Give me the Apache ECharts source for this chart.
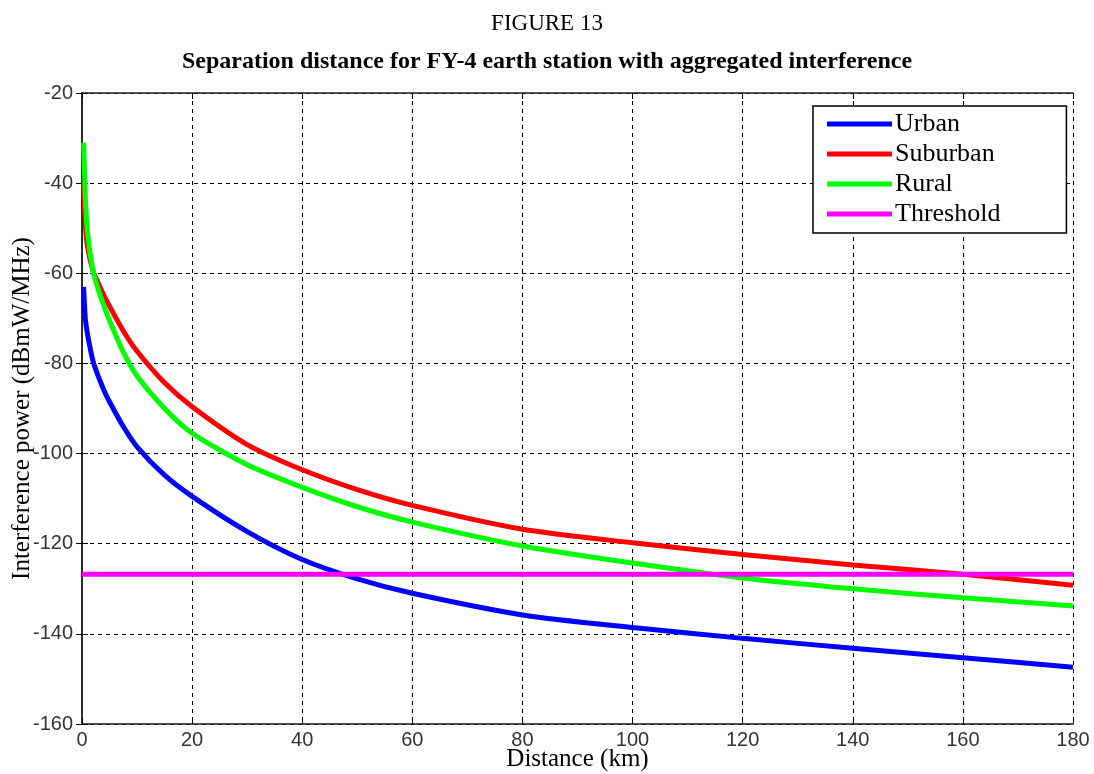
<!DOCTYPE html>
<html>
<head>
<meta charset="utf-8">
<script src="https://cdn.jsdelivr.net/npm/echarts@6/dist/echarts.min.js"></script>
<style>html,body{margin:0;padding:0;background:#fff;}#c{width:1094px;height:774px;}</style>
</head>
<body>
<div id="c"></div>
<script>
const distance = [0.3, 0.6, 1, 2, 3, 4, 5, 7.5, 10, 15, 20, 30, 40, 50, 60, 80, 100, 120, 140, 160, 180];
const urban    = [-63, -70, -73.5, -79.5, -83, -86, -88.5, -94, -98.5, -104.8, -109.5, -117.3, -123.5, -127.8, -131, -135.8, -138.6, -141, -143.2, -145.3, -147.4];
const suburban = [-40, -49, -54, -59.5, -62.3, -65, -67.3, -72.8, -77.3, -84.3, -89.6, -98, -103.6, -108, -111.5, -116.8, -119.8, -122.4, -124.7, -126.8, -129.2];
const rural    = [-31, -43, -51, -59.5, -63.8, -67.3, -70.5, -77.5, -82.8, -90, -95.5, -102.5, -107.5, -111.8, -115.2, -120.5, -124.3, -127.6, -130, -132, -133.8];
const thresholdDist = [0, 180];
const thresholdVal = [-126.8, -126.8];
const seriesNames = ['Urban', 'Suburban', 'Rural', 'Threshold'];

const pairs = (xs, ys) => xs.map((x, i) => [x, ys[i]]);
const colors = ['#0000ff', '#ff0000', '#00ff00', '#ff00ff'];
const datasets = [pairs(distance, urban), pairs(distance, suburban), pairs(distance, rural), pairs(thresholdDist, thresholdVal)];

const serif = 'Liberation Serif, Times New Roman, serif';
const chart = echarts.init(document.getElementById('c'), null, {renderer: 'canvas'});
const tickFont = {fontFamily: 'Liberation Sans, Arial, sans-serif', fontSize: 20, color: '#333'};
chart.setOption({
  animation: false,
  backgroundColor: '#fff',
  title: [
    {text: 'FIGURE 13', left: 'center', top: 7, textStyle: {fontFamily: serif, fontWeight: 'normal', fontSize: 23, color: '#000'}},
    {text: 'Separation distance for FY-4 earth station with aggregated interference', left: 'center', top: 45, textStyle: {fontFamily: serif, fontWeight: 'bold', fontSize: 24, color: '#000'}}
  ],
  grid: {left: 82, right: 21, top: 93, bottom: 50, containLabel: false, outerBoundsMode: 'none'},
  legend: {
    data: seriesNames, orient: 'vertical', left: 813, top: 106,
    icon: 'rect', itemWidth: 65, itemHeight: 5, itemGap: 4,
    backgroundColor: '#fff', borderColor: '#000', borderWidth: 1.5, borderRadius: 0,
    padding: [5, 66, 6, 14],
    textStyle: {fontFamily: serif, fontSize: 26, color: '#000', lineHeight: 26, padding: [0, 0, 0, -2]}
  },
  xAxis: [{
    type: 'value', min: 0, max: 180, interval: 20,
    name: 'Distance (km)', nameLocation: 'middle', nameGap: 23, nameMoveOverlap: false,
    nameTextStyle: {fontFamily: serif, fontSize: 25, color: '#000'},
    axisLine: {lineStyle: {color: '#222', width: 1.5}},
    axisTick: {inside: true, length: 6, lineStyle: {color: '#000'}},
    axisLabel: Object.assign({margin: 6}, tickFont),
    splitLine: {show: true, lineStyle: {color: '#000', type: [4, 4], width: 1}}
  }, {
    type: 'value', min: 0, max: 180, interval: 20, position: 'top',
    axisLine: {show: true, lineStyle: {color: '#222', width: 1.5}},
    axisTick: {show: true, inside: true, length: 6, lineStyle: {color: '#000'}},
    axisLabel: {show: false}, splitLine: {show: false}
  }],
  yAxis: [{
    type: 'value', min: -160, max: -20, interval: 20,
    name: 'Interference power (dBmW/MHz)', nameLocation: 'middle', nameGap: 47, nameMoveOverlap: false,
    nameTextStyle: {fontFamily: serif, fontSize: 25, color: '#000'},
    axisLine: {show: true, lineStyle: {color: '#222', width: 1.5}},
    axisTick: {show: true, inside: true, length: 6, lineStyle: {color: '#000'}},
    axisLabel: Object.assign({margin: 9}, tickFont),
    splitLine: {show: true, lineStyle: {color: '#000', type: [4, 4], width: 1}}
  }, {
    type: 'value', min: -160, max: -20, interval: 20, position: 'right',
    axisLine: {show: true, lineStyle: {color: '#222', width: 1.5}},
    axisTick: {show: true, inside: true, length: 6, lineStyle: {color: '#000'}},
    axisLabel: {show: false}, splitLine: {show: false}
  }],
  series: seriesNames.map((n, i) => ({
    name: n, type: 'line', data: datasets[i], showSymbol: false, symbol: 'none',
    smooth: i < 3 ? 0.25 : false,
    lineStyle: {color: colors[i], width: 5},
    itemStyle: {color: colors[i]},
    clip: true
  }))
});
</script>
</body>
</html>
